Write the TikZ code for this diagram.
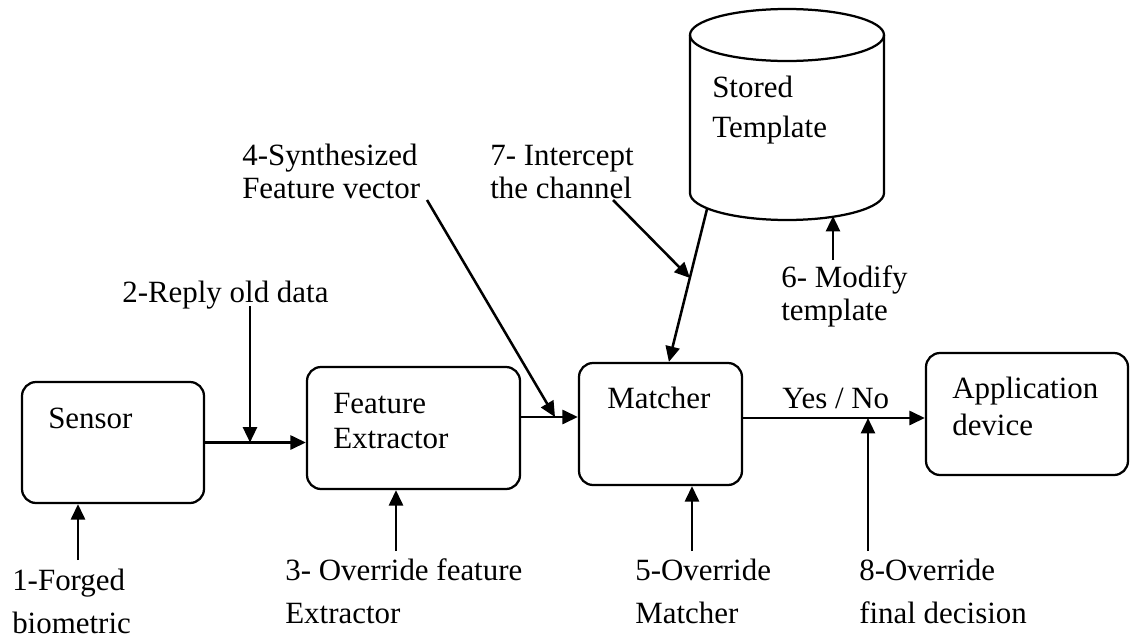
\documentclass[tikz,border=0pt]{standalone}
\usepackage{fontspec}
\setmainfont{Liberation Serif}
\usetikzlibrary{arrows.meta,fit}
\tikzset{
	block/.style={draw=black, line width=1.6pt, rounded corners=10pt, inner sep=0pt},
	arr/.style={line width=1.8pt, -{Triangle[length=11pt,width=10pt]}},
	txt/.style={font=\fontsize{22}{26}\selectfont, inner sep=0pt, anchor=base west}
}

\begin{document}
\begin{tikzpicture}[x=0.025cm, y=-0.025cm]
			\useasboundingbox (0, 0) rectangle (1132, 639);
			\node [block, fit={(22, 382) (204, 503)}] (sensor) {};
			\node [block, fit={(307, 367) (520, 489)}] (extractor) {};
			\node [block, fit={(579, 363) (742, 485)}] (matcher) {};
			\node [block, fit={(926, 353) (1128, 475)}] (app) {};
			\draw [line width=1.6pt] (690, 35) -- (690, 193) arc [start angle=180, end angle=0, x radius=97, y radius=27] -- (884, 35);
			\draw [line width=1.6pt] (787, 35) ellipse [x radius=97, y radius=26];
			\node [fit={(690, 9) (884, 220)}, inner sep=0pt] (store) {};
			\coordinate (store-out) at (707, 209);
			\coordinate (store-in) at (833, 216);
			\node [txt] (sensor-txt) at (48, 428) {Sensor};
			\node [txt] (extractor-txt1) at (333, 413) {Feature};
			\node [txt] (extractor-txt2) at (333, 448) {Extractor};
			\node [txt] (matcher-txt) at (607, 408) {Matcher};
			\node [txt] (app-txt1) at (952, 398) {Application};
			\node [txt] (app-txt2) at (952, 435) {device};
			\node [txt] (store-txt1) at (712, 97) {Stored};
			\node [txt] (store-txt2) at (712, 137) {Template};
			\node [txt] (decision) at (782, 408) {Yes / No};
			\node [txt] (atk1a) at (12, 590) {1-Forged};
			\node [txt] (atk1b) at (12, 633) {biometric};
			\node [txt] (atk2) at (122, 302) {2-Reply old data};
			\node [txt] (atk3a) at (285, 580) {3- Override feature};
			\node [txt] (atk3b) at (285, 623) {Extractor};
			\node [txt] (atk4a) at (242, 165) {4-Synthesized};
			\node [txt] (atk4b) at (242, 198) {Feature vector};
			\node [txt] (atk5a) at (635, 580) {5-Override};
			\node [txt] (atk5b) at (635, 623) {Matcher};
			\node [txt] (atk6a) at (781, 287) {6- Modify};
			\node [txt] (atk6b) at (781, 320) {template};
			\node [txt] (atk7a) at (490, 165) {7- Intercept};
			\node [txt] (atk7b) at (490, 198) {the channel};
			\node [txt] (atk8a) at (859, 580) {8-Override};
			\node [txt] (atk8b) at (859, 623) {final decision};
			\coordinate (a1) at (78, 560);
			\coordinate (a2) at (250, 306);
			\coordinate (a3) at (396, 551);
			\coordinate (a4) at (427, 200);
			\coordinate (j4) at (555, 417);
			\coordinate (a5) at (692, 551);
			\coordinate (a6) at (833, 260);
			\coordinate (a7) at (613, 200);
			\coordinate (j7) at (690, 278);
			\coordinate (a8) at (868, 551);
			\coordinate (j8) at (868, 418);
			\draw [arr] (sensor.east) -- (sensor.east -| extractor.west);
			\draw [arr] ([yshift=0.275cm]extractor.east) -- ([yshift=0.275cm]extractor.east -| matcher.west);
			\draw [arr] ([yshift=0.15cm]matcher.east) -- ([yshift=0.15cm]matcher.east -| app.west);
			\draw [arr] (store-out) -- ([xshift=0.21cm]matcher.north);
			\draw [arr] (a1) -- (a1 |- sensor.south);
			\draw [arr] (a2) -- (a2 |- sensor.east);
			\draw [arr] (a3) -- (a3 |- extractor.south);
			\draw [arr] (a4) -- (j4);
			\draw [arr] (a5) -- (a5 |- matcher.south);
			\draw [arr] (a6) -- (store-in);
			\draw [arr] (a7) -- (j7);
			\draw [arr] (a8) -- (j8);
		\end{tikzpicture}
\end{document}
